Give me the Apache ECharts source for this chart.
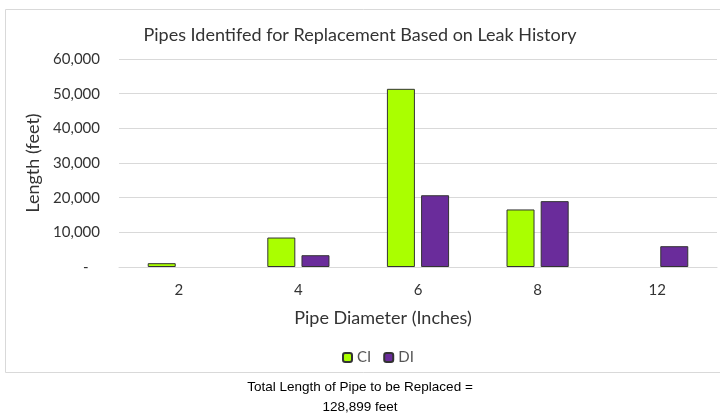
<!DOCTYPE html>
<html>
<head>
<meta charset="utf-8">
<script src="https://cdn.jsdelivr.net/npm/echarts@6/dist/echarts.min.js"></script>
<style>
  html, body { margin: 0; padding: 0; background: #fff; }
  #main { width: 720px; height: 416px; }
</style>
</head>
<body>
<div id="main"></div>
<script>
// pipe diameters (inches)
const diameters = ['2', '4', '6', '8', '12'];
// length in feet
const ciLength = [1100, 8500, 51400, 16600, null];
const diLength = [null, 3400, 20700, 19000, 6000];
const yTicks = [0, 10000, 20000, 30000, 40000, 50000, 60000];

const chart = echarts.init(document.getElementById('main'));

const labelFont = 'Lato, "Open Sans", sans-serif';
const textColor = '#333333';

const option = {
  animation: false,
  backgroundColor: '#fff',
  title: {
    text: 'Pipes Identifed for Replacement Based on Leak History',
    left: 'center',
    top: 21,
    textStyle: { fontFamily: labelFont, fontSize: 18, fontWeight: 'normal', color: textColor }
  },
  grid: { left: 119, right: 3, top: 59, bottom: 149 },
  legend: {
    left: 337,
    top: 345,
    itemWidth: 9,
    itemHeight: 9,
    itemGap: 12,
    textStyle: { fontFamily: labelFont, fontSize: 15, color: '#555555' },
    data: ['CI', 'DI']
  },
  xAxis: {
    type: 'category',
    data: diameters,
    name: 'Pipe Diameter (Inches)',
    nameLocation: 'middle',
    nameGap: 42,
    nameTextStyle: { fontFamily: labelFont, fontSize: 18, color: textColor, padding: [0, 70, 0, 0] },
    axisLine: { lineStyle: { color: '#d9d9d9' } },
    axisTick: { show: false },
    axisLabel: { fontFamily: labelFont, fontSize: 15, color: textColor, margin: 16 }
  },
  yAxis: {
    type: 'value',
    min: yTicks[0],
    max: yTicks[yTicks.length - 1],
    interval: 10000,
    name: 'Length (feet)',
    nameLocation: 'middle',
    nameGap: 76,
    nameTextStyle: { fontFamily: labelFont, fontSize: 18, color: textColor },
    axisLine: { show: false },
    axisTick: { show: false },
    splitLine: { lineStyle: { color: '#d9d9d9' } },
    axisLabel: {
      fontFamily: labelFont, fontSize: 15, color: textColor, margin: 19,
      formatter: function (v) { return v === 0 ? '-   ' : v.toLocaleString('en-US'); }
    }
  },
  series: [
    {
      name: 'CI',
      type: 'bar',
      data: ciLength,
      barWidth: 28,
      barGap: '22%',
      itemStyle: { color: '#aaff00', borderColor: '#333333', borderWidth: 1 }
    },
    {
      name: 'DI',
      type: 'bar',
      data: diLength,
      barWidth: 28,
      barGap: '22%',
      itemStyle: { color: '#6a2c9b', borderColor: '#333333', borderWidth: 1 }
    }
  ],
  graphic: [
    {
      type: 'rect',
      shape: { x: 5.5, y: 9.5, width: 730, height: 363 },
      style: { fill: null, stroke: '#d9d9d9', lineWidth: 1 },
      silent: true
    },
    {
      type: 'text',
      x: 360,
      y: 377,
      style: {
        text: 'Total Length of Pipe to be Replaced =\n128,899 feet',
        font: '13.5px "Liberation Sans", Arial, sans-serif',
        fill: '#000',
        align: 'center',
        verticalAlign: 'top',
        lineHeight: 20
      }
    }
  ]
};

chart.setOption(option);
</script>
</body>
</html>
